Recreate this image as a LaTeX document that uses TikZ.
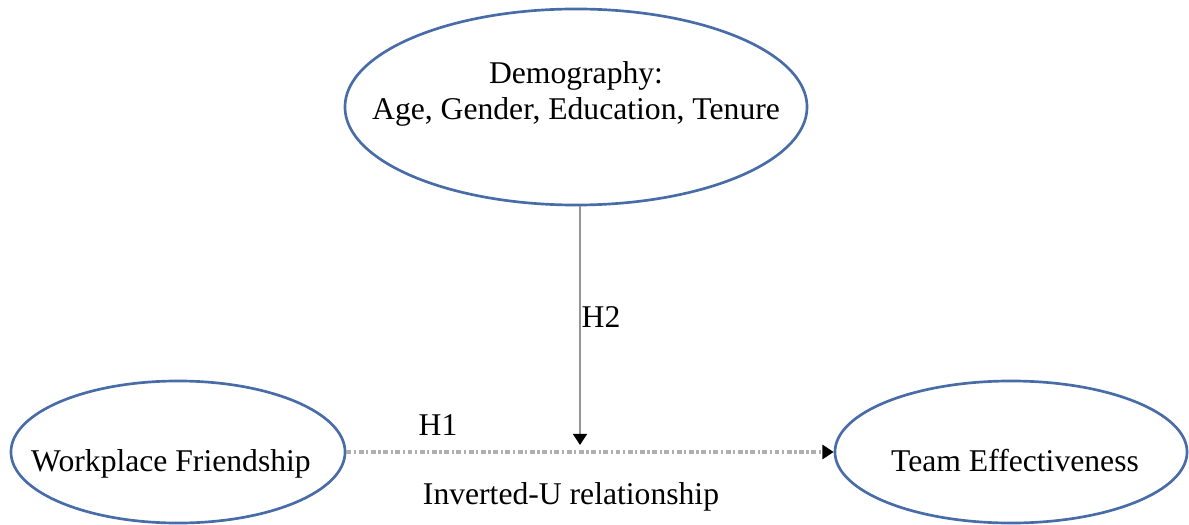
\documentclass[tikz,border=0pt]{standalone}
\usepackage{fontspec}
\setmainfont{Liberation Serif}
\usetikzlibrary{shapes.geometric, arrows.meta, positioning}
\definecolor{ovalblue}{RGB}{72, 108, 168}
\definecolor{arrowgray}{RGB}{150, 150, 150}
\definecolor{dotgray}{RGB}{175, 175, 175}

\begin{document}
\begin{tikzpicture}[x=0.025cm, y=-0.025cm,
  oval/.style={ellipse, draw=ovalblue, line width=1.9pt, inner sep=0pt},
  lbl/.style={inner sep=0pt, font=\fontsize{22.5}{26}\selectfont, align=center},
  hyp/.style={arrowgray, line width=1.5pt, -{Triangle[width=10pt, length=8pt, color=black]}},
  dotline/.style={dotgray, line width=2.6pt, dash pattern=on 3.5pt off 1.8pt on 1.6pt off 1.8pt,
    -{Triangle[width=10pt, length=8pt, color=black]}}]
  \useasboundingbox (0,0) rectangle (1189,525);

  % 调节变量
  \node[oval, minimum width=11.55cm, minimum height=4.9cm] (demo) at (576,107) {};
  \node[lbl] (demotxt) at (576,94) {Demography:\\Age, Gender, Education, Tenure};

  % 自变量与因变量
  \node[oval, minimum width=8.35cm, minimum height=3.55cm] (wf) at (178,452) {};
  \node[lbl, anchor=base] (wftxt) at (171,471) {Workplace Friendship};
  \node[oval, minimum width=8.8cm, minimum height=3.55cm] (te) at (1011,452) {};
  \node[lbl, anchor=base] (tetxt) at (1015,471) {Team Effectiveness};

  % 连线
  \coordinate (tip) at (580,445);
  \draw[hyp] (demo.south -| tip) -- (tip);
  \draw[dotline] (wf.east) -- (te.west);

  % 假设标注
  \node[lbl] (h2) at (601,317) {H2};
  \node[lbl] (h1) at (438,425) {H1};
  \node[lbl] (invu) at (571,497) {Inverted-U relationship};
\end{tikzpicture}
\end{document}
